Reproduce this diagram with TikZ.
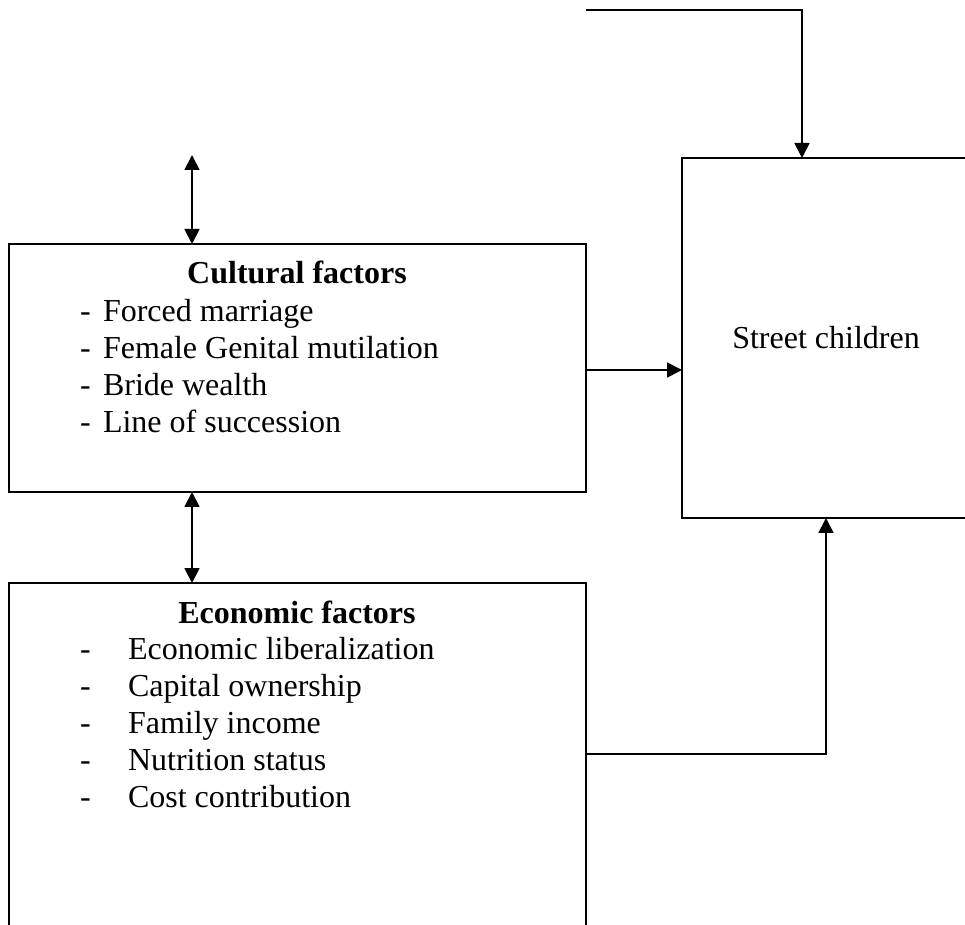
\documentclass[tikz,border=0pt]{standalone}
\usepackage{fontspec}
\setmainfont{Liberation Serif}
\usetikzlibrary{calc}
\usetikzlibrary{arrows.meta}

\tikzset{
  box/.style={draw, line width=0.9pt, inner sep=0pt, outer sep=0pt},
  txt/.style={inner sep=0pt, outer sep=0pt, font=\fontsize{16}{19}\selectfont},
  head/.style={txt, font=\fontsize{16}{19}\selectfont\bfseries},
  arr/.style={line width=0.9pt, -{Triangle[length=7.5pt,width=7.5pt]}},
  dblarr/.style={line width=0.9pt, {Triangle[length=7.5pt,width=7.5pt]}-{Triangle[length=7.5pt,width=7.5pt]}}
}

\begin{document}
\begin{tikzpicture}[x=0.5pt,y=-0.5pt]

\useasboundingbox (0,0) rectangle (965,925);
\clip (0,0) rectangle (965,925);

% boxes
\node[box, anchor=north west, minimum width=288.5pt, minimum height=124pt] (cultural) at (9,244) {};
\node[box, anchor=north west, minimum width=288.5pt, minimum height=178.5pt] (economic) at (9,583) {};
\node[box, txt, anchor=north west, minimum width=144pt, minimum height=180pt] (street) at (682,158) {Street children};

% texts
\node[head, anchor=base] (culthead) at (297,284) {Cultural factors};
\foreach \t [count=\i] in {Forced marriage, Female Genital mutilation, Bride wealth, Line of succession}{
  \node[txt, anchor=base west] (cultdash\i) at (80,{322+36.7*(\i-1)}) {-};
  \node[txt, anchor=base west] (cultitem\i) at (103,{322+36.7*(\i-1)}) {\t};
}

\node[head, anchor=base] (econhead) at (297,623) {Economic factors};
\foreach \t [count=\i] in {Economic liberalization, Capital ownership, Family income, Nutrition status, Cost contribution}{
  \node[txt, anchor=base west] (econdash\i) at (80,{659+37*(\i-1)}) {-};
  \node[txt, anchor=base west] (econitem\i) at (128,{659+37*(\i-1)}) {\t};
}

% connectors
\coordinate (topstart) at (586,10);
\coordinate (culttop) at (192,155);
\draw[arr, line join=miter] (topstart) -| ([xshift=60pt]street.north west);
\draw[dblarr] (culttop) -- ([xshift=91.5pt]cultural.north west);
\draw[dblarr] ([xshift=91.5pt]cultural.south west) -- ([xshift=91.5pt]economic.north west);
\draw[arr] ([yshift=-1pt]cultural.east) -- ([yshift=-1pt]cultural.east -| street.west);
\draw[arr] ([yshift=-85.5pt]economic.north east) -| ([xshift=72pt]street.south west);

\end{tikzpicture}
\end{document}
